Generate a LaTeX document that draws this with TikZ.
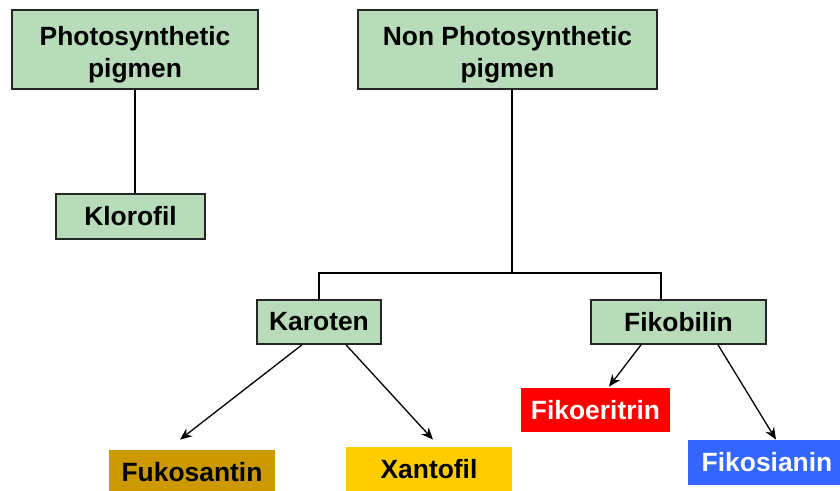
\documentclass[tikz,border=0pt]{standalone}
\usepackage{fontspec}
\setmainfont{Liberation Sans}
\usepackage{xcolor}
\usepackage{tikz}
\usetikzlibrary{arrows.meta}
\definecolor{pale}{HTML}{B8DCBA}
\definecolor{edge}{HTML}{262626}
\definecolor{ochre}{HTML}{CC9900}
\definecolor{amber}{HTML}{FFCC00}
\definecolor{scarlet}{HTML}{FF0000}
\definecolor{azure}{HTML}{3366FF}
\tikzset{
  lbl/.style={font=\fontsize{13.2}{16}\selectfont\bfseries, align=center, inner sep=0pt},
  box/.style={lbl, draw=edge, fill=pale, line width=0.8pt},
  tag/.style={lbl, draw=none},
  link/.style={draw=black, line width=0.65pt},
  arr/.style={link, -{Stealth[length=6pt,width=5pt]}},
}
\begin{document}
\begin{tikzpicture}[x=0.5pt,y=-0.5pt]
  \useasboundingbox (0,0) rectangle (840,491);
  % top level
  \node[box, minimum width=123pt, minimum height=39.5pt] (photo) at (135,49.5) {\rule{0pt}{14.6pt}Photosynthetic\\pigmen};
  \node[box, minimum width=149.5pt, minimum height=39.5pt] (nonphoto) at (507.5,49.5) {\rule{0pt}{14.6pt}Non Photosynthetic\\pigmen};
  \node[box, minimum width=74.5pt, minimum height=22.5pt] (klorofil) at (130.5,216.5) {Klorofil};
  \node[box, minimum width=62pt, minimum height=22pt] (karoten) at (319,322) {Karoten};
  \node[box, minimum width=87.5pt, minimum height=22pt] (fikobilin) at (678.5,322) {Fikobilin};
  % coloured leaves
  \node[tag, fill=ochre, minimum width=83pt, minimum height=22pt] (fukosantin) at (192,472) {Fukosantin};
  \node[tag, fill=amber, minimum width=83pt, minimum height=22.5pt] (xantofil) at (429,469.5) {Xantofil};
  \node[tag, fill=scarlet, text=white, minimum width=74.5pt, minimum height=22pt] (fikoeritrin) at (595.5,410) {Fikoeritrin};
  \node[tag, fill=azure, text=white, minimum width=79pt, minimum height=22.5pt] (fikosianin) at (767,462.5) {Fikosianin};
  % tree lines
  \coordinate (split) at (512,273);
  \coordinate (fbtop) at (661,300);
  \draw[link] (photo.south) -- (photo.south |- klorofil.north);
  \draw[link] (nonphoto.south -| split) -- (split);
  \draw[link] (karoten.north) |- (split) -| (fbtop);
  % arrows
  \draw[arr] ([xshift=-8.5pt]karoten.south) -- ([xshift=-6pt,yshift=5pt]fukosantin.north);
  \draw[arr] ([xshift=13.5pt]karoten.south) -- ([xshift=2pt,yshift=3.5pt]xantofil.north);
  \draw[arr] ([xshift=-18.75pt]fikobilin.south) -- ([xshift=6.75pt,yshift=0.5pt]fikoeritrin.north);
  \draw[arr] ([xshift=19.75pt]fikobilin.south) -- ([xshift=4.5pt]fikosianin.north);
\end{tikzpicture}
\end{document}
